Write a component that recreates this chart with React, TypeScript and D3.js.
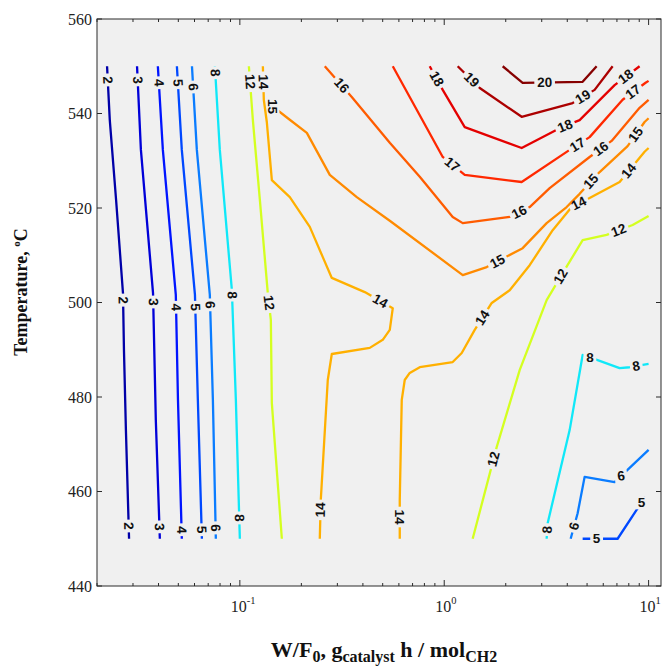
import React from "react";
import * as d3 from "d3";

type Pt = [number, number];
type Lab = [number, number, number?];

// contour levels (yield, %) and their line colours
const levelColors: Record<number, string> = {
  2: "#0000a8",
  3: "#0000d8",
  4: "#0014ff",
  5: "#0048ff",
  6: "#0a7cff",
  8: "#10e8f8",
  12: "#d4ff20",
  14: "#ffb000",
  15: "#ff8a00",
  16: "#ff5c00",
  17: "#ff2800",
  18: "#e40000",
  19: "#ac0000",
  20: "#860000",
};

// contour polylines: [W/F0, temperature]
const line2: Pt[] = [[0.0224, 550], [0.0231, 538.6], [0.0248, 521.7], [0.0268, 502.0], [0.0271, 489.9], [0.0277, 473.0], [0.0287, 450]];
const line3: Pt[] = [[0.0314, 550], [0.0328, 532.3], [0.0376, 502.0], [0.0388, 475.1], [0.0406, 450]];
const line4: Pt[] = [[0.0397, 550], [0.042, 532.3], [0.0486, 501.6], [0.0498, 479.4], [0.052, 450]];
const line5: Pt[] = [[0.0492, 550], [0.052, 532.3], [0.0603, 501.6], [0.0623, 479.4], [0.0652, 450]];
const line6: Pt[] = [[0.0583, 550], [0.0616, 532.3], [0.0713, 501.6], [0.0738, 479.4], [0.0763, 450]];
const line8: Pt[] = [[0.0755, 550], [0.0798, 532.3], [0.0914, 502.6], [0.0956, 479.4], [0.1, 450]];
const line12a: Pt[] = [[0.1107, 550], [0.1158, 538.6], [0.1253, 521.7], [0.137, 502.0], [0.1418, 496.3], [0.1434, 478.7], [0.1605, 450]];
const line14a: Pt[] = [
  [0.1296, 550], [0.131, 542.9], [0.1355, 538.2], [0.1434, 525.9], [0.1756, 522.3], [0.2199, 516.0],
  [0.2546, 509.6], [0.2818, 505.2], [0.4086, 502.2], [0.5601, 498.8], [0.5415, 494.2], [0.5004, 492.1],
  [0.4322, 490.4], [0.2818, 489.1], [0.2693, 483.6], [0.2489, 458.2], [0.2461, 450],
];
const line15: Pt[] = [
  [0.1402, 542.0], [0.1717, 539.0], [0.2127, 535.9], [0.2755, 527.0], [0.3734, 522.3], [0.5415, 517.3],
  [1.232, 505.8], [1.614, 507.5], [2.42, 511.5], [3.171, 516.8], [3.972, 520.2], [4.598, 523.0],
  [5.759, 527.6], [7.895, 533.1], [9.559, 538.2], [10, 539.0],
];
const line16: Pt[] = [
  [0.2604, 550], [0.3529, 543.5], [0.5415, 533.8], [0.7591, 526.6], [1.1005, 518.1], [1.232, 516.8],
  [2.091, 518.1], [2.619, 520.2], [3.281, 524.2], [5.146, 530.8], [6.594, 534.2], [9.036, 541.2], [10, 542.9],
];
const line17: Pt[] = [[0.5601, 550], [0.9833, 530.8], [1.26, 527.0], [2.393, 525.5], [4.109, 532.3], [5.146, 535.0], [7.463, 542.9], [9.667, 546.5], [10, 546.9]];
const line18: Pt[] = [[0.8492, 550], [0.9833, 545.0], [1.26, 537.1], [2.393, 532.7], [3.672, 536.9], [4.598, 538.6], [6.819, 546.0], [9.036, 550]];
const line19: Pt[] = [[1.164, 550], [1.492, 545.4], [2.393, 539.3], [4.25, 542.2], [5.444, 545.0], [6.668, 550]];
const line20: Pt[] = [[1.932, 550], [2.42, 546.5], [4.757, 546.7], [5.568, 550]];
const line14b: Pt[] = [
  [0.6059, 450], [0.6059, 458.2], [0.6197, 479.4], [0.6409, 483.6], [0.678, 485.1], [0.7591, 486.3],
  [1.1005, 487.4], [1.218, 489.3], [1.41, 494.2], [1.708, 499.9], [2.091, 502.6], [2.619, 507.9],
  [3.394, 515.3], [4.203, 520.2], [5.146, 522.1], [7.215, 525.5], [9.559, 531.9], [10, 532.7],
];
const line12b: Pt[] = [[1.378, 450], [1.806, 469.4], [2.34, 485.7], [3.171, 500.5], [3.884, 506.9], [4.757, 513.2], [6.232, 514.3], [8.353, 516.4], [10, 518.3]];
const line8b: Pt[] = [[3.171, 450], [3.207, 453.3], [4.109, 473.0], [4.757, 488.9], [5.63, 487.8], [7.215, 486.1], [8.075, 486.3], [10, 487.0]];
const line6b: Pt[] = [[4.156, 450], [4.496, 455.4], [4.864, 463.1], [6.819, 462.0], [8.075, 465.0], [10, 468.8]];
const line5b: Pt[] = [[4.757, 450], [7.054, 450], [8.737, 456.1], [9.667, 458.8]];

// inline label anchors: [W/F0, temperature, optional angle]
const labels2: Lab[] = [[0.0224, 547.1], [0.0265, 500.5], [0.0283, 452.7]];
const labels3: Lab[] = [[0.0314, 547.1], [0.0376, 500.1], [0.0397, 452.5]];
const labels4: Lab[] = [[0.0406, 546.5], [0.0481, 499.0], [0.0515, 451.9]];
const labels5: Lab[] = [[0.0492, 546.5], [0.0603, 499.0], [0.0637, 451.9]];
const labels6: Lab[] = [[0.0589, 545.6], [0.0713, 499.5], [0.0755, 452.3]];
const labels8: Lab[] = [[0.0755, 548.6], [0.0945, 501.6], [0.0989, 454.4]];
const labels12a: Lab[] = [[0.1107, 546.7], [0.1355, 499.9]];
const labels14a: Lab[] = [[0.1296, 546.7], [0.4837, 500.1], [0.2546, 456.1]];
const labels15: Lab[] = [[0.1434, 541.2, 90], [1.806, 509.0], [5.146, 525.9], [8.737, 535.4]];
const labels16: Lab[] = [[0.3083, 545.6], [2.393, 518.1], [5.89, 532.3]];
const labels17: Lab[] = [[1.088, 529.1], [4.496, 533.3], [8.26, 545.0]];
const labels18: Lab[] = [[0.8985, 547.1], [3.972, 536.5], [7.631, 548.1]];
const labels19: Lab[] = [[1.332, 546.7], [4.864, 542.9]];
const labels20: Lab[] = [[3.1, 546.5]];
const labels14b: Lab[] = [[0.6267, 454.6], [1.543, 496.7], [4.598, 520.6], [8.26, 527.4]];
const labels12b: Lab[] = [[1.806, 466.7], [3.755, 505.4], [7.215, 514.7]];
const labels8b: Lab[] = [[3.281, 451.9], [5.088, 487.6, 0], [8.737, 486.1]];
const labels6b: Lab[] = [[4.445, 452.5], [7.463, 462.9, -8]];
const labels5b: Lab[] = [[5.568, 450], [9.243, 457.6, 0]];

const contourLines = [
  { level: 2, pts: line2, labs: labels2 },
  { level: 3, pts: line3, labs: labels3 },
  { level: 4, pts: line4, labs: labels4 },
  { level: 5, pts: line5, labs: labels5 },
  { level: 6, pts: line6, labs: labels6 },
  { level: 8, pts: line8, labs: labels8 },
  { level: 12, pts: line12a, labs: labels12a },
  { level: 14, pts: line14a, labs: labels14a },
  { level: 15, pts: line15, labs: labels15 },
  { level: 16, pts: line16, labs: labels16 },
  { level: 17, pts: line17, labs: labels17 },
  { level: 18, pts: line18, labs: labels18 },
  { level: 19, pts: line19, labs: labels19 },
  { level: 20, pts: line20, labs: labels20 },
  { level: 14, pts: line14b, labs: labels14b },
  { level: 12, pts: line12b, labs: labels12b },
  { level: 8, pts: line8b, labs: labels8b },
  { level: 6, pts: line6b, labs: labels6b },
  { level: 5, pts: line5b, labs: labels5b },
];

const yTicks = [440, 460, 480, 500, 520, 540, 560];
const xMajor = [0.1, 1, 10];
const xTickLabels = ["-1", "0", "1"];

const W = 663;
const H = 669;
const left = 97, right = 661, top = 19, bottom = 586;

const x = d3.scaleLog().domain([0.02, 11.5]).range([left, right]);
const y = d3.scaleLinear().domain([440, 560]).range([bottom, top]);
const line = d3.line<Pt>().x((d) => x(d[0])).y((d) => y(d[1]));

// snap a label to the nearest segment of its line, and take the angle of that segment
function placeLabel(pts: Pt[], lab: Lab) {
  const px = x(lab[0]), py = y(lab[1]);
  let best = { d: Infinity, x: px, y: py, a: 0 };
  for (let i = 0; i < pts.length - 1; i++) {
    const x1 = x(pts[i][0]), y1 = y(pts[i][1]);
    const x2 = x(pts[i + 1][0]), y2 = y(pts[i + 1][1]);
    const dx = x2 - x1, dy = y2 - y1;
    const len2 = dx * dx + dy * dy || 1;
    const t = Math.max(0, Math.min(1, ((px - x1) * dx + (py - y1) * dy) / len2));
    const qx = x1 + t * dx, qy = y1 + t * dy;
    const d = (qx - px) ** 2 + (qy - py) ** 2;
    if (d < best.d) {
      let a = (Math.atan2(dy, dx) * 180) / Math.PI;
      if (a > 90) a -= 180;
      if (a <= -90) a += 180;
      best = { d, x: qx, y: qy, a };
    }
  }
  return { x: best.x, y: best.y, a: lab[2] !== undefined ? lab[2] : best.a };
}

const minorTicks = x.ticks().filter((t) => t >= 0.02 && t <= 11.5 && !xMajor.includes(t));

export default function App() {
  const placed = contourLines.map((c) => c.labs.map((l) => placeLabel(c.pts, l)));
  return (
    <svg width={W} height={H} style={{ position: "absolute", left: 0, top: 0, background: "#fff" }}>
      <defs>
        {contourLines.map((c, i) => (
          <mask id={`gap${i}`} key={i} maskUnits="userSpaceOnUse" x={0} y={0} width={W} height={H}>
            <rect x={0} y={0} width={W} height={H} fill="#fff" />
            {placed[i].map((p, j) => {
              const w = String(c.level).length * 7.8 + 5;
              return (
                <rect key={j} x={-w / 2} y={-6.5} width={w} height={13} fill="#000"
                  transform={`translate(${p.x},${p.y}) rotate(${p.a})`} />
              );
            })}
          </mask>
        ))}
      </defs>
      <rect x={left} y={top} width={right - left} height={bottom - top} fill="#f0f0f0" />
      {contourLines.map((c, i) => (
        <path key={i} d={line(c.pts) || ""} fill="none" stroke={levelColors[c.level]}
          strokeWidth={2.3} strokeLinejoin="round" mask={`url(#gap${i})`} />
      ))}
      {contourLines.map((c, i) =>
        placed[i].map((p, j) => (
          <text key={`${i}-${j}`} transform={`translate(${p.x},${p.y}) rotate(${p.a})`}
            textAnchor="middle" dominantBaseline="central" fontFamily="'Liberation Sans', Arial, sans-serif"
            fontWeight="bold" fontSize={13.5} fill="#111">
            {c.level}
          </text>
        ))
      )}
      {/* axes box and ticks */}
      <g stroke="#2a2a2a" strokeWidth={1} fill="none">
        <rect x={left} y={top} width={right - left} height={bottom - top} />
        {yTicks.map((t) => (
          <g key={t}>
            <line x1={left} x2={left + 5} y1={y(t)} y2={y(t)} />
            <line x1={right} x2={right - 5} y1={y(t)} y2={y(t)} />
          </g>
        ))}
        {xMajor.map((t) => (
          <g key={t}>
            <line x1={x(t)} x2={x(t)} y1={bottom} y2={bottom - 6} />
            <line x1={x(t)} x2={x(t)} y1={top} y2={top + 6} />
          </g>
        ))}
        {minorTicks.map((t) => (
          <g key={t}>
            <line x1={x(t)} x2={x(t)} y1={bottom} y2={bottom - 3} />
            <line x1={x(t)} x2={x(t)} y1={top} y2={top + 3} />
          </g>
        ))}
      </g>
      <g fontFamily="'Liberation Serif', 'Times New Roman', serif" fontSize={16} fill="#222">
        {yTicks.map((t) => (
          <text key={t} x={left - 5} y={y(t)} textAnchor="end" dominantBaseline="central">
            {t}
          </text>
        ))}
        {xMajor.map((t, i) => (
          <text key={t} x={x(t) - 9} y={612}>
            10<tspan dy={-8} fontSize={10.5}>{xTickLabels[i]}</tspan>
          </text>
        ))}
      </g>
      <text x={384} y={657} textAnchor="middle" fontFamily="'Liberation Serif', 'Times New Roman', serif"
        fontWeight="bold" fontSize={22} fill="#111">
        W/F<tspan dy={5} fontSize={16}>0</tspan>
        <tspan dy={-5}>, g</tspan>
        <tspan dy={5} fontSize={16}>catalyst</tspan>
        <tspan dy={-5}> h / mol</tspan>
        <tspan dy={5} fontSize={16}>CH2</tspan>
      </text>
      <text transform="translate(27,292) rotate(-90)" textAnchor="middle"
        fontFamily="'Liberation Serif', 'Times New Roman', serif" fontWeight="bold" fontSize={18} fill="#111">
        Temperature, <tspan dy={-7} fontSize={11}>o</tspan>
        <tspan dy={7}>C</tspan>
      </text>
    </svg>
  );
}
